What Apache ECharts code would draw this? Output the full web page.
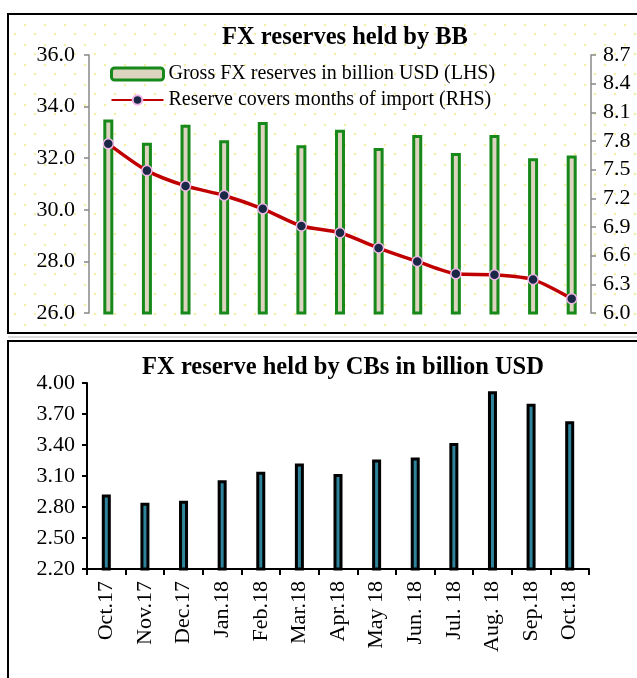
<!DOCTYPE html>
<html>
<head>
<meta charset="utf-8">
<script src="https://cdn.jsdelivr.net/npm/echarts@6/dist/echarts.min.js"></script>
<style>
  html, body { margin: 0; padding: 0; background: #fff; }
  #chart { width: 637px; height: 678px; }
</style>
</head>
<body>
<div id="chart"></div>
<script>
// top panel: BB reserves (LHS bars) and import cover (RHS line)
var months = ['Oct.17', 'Nov.17', 'Dec.17', 'Jan.18', 'Feb.18', 'Mar.18', 'Apr.18', 'May 18', 'Jun. 18', 'Jul. 18', 'Aug. 18', 'Sep.18', 'Oct.18']
var grossReserves = [33.5, 32.6, 33.3, 32.7, 33.4, 32.5, 33.1, 32.4, 32.9, 32.2, 32.9, 32.0, 32.1]
var importCover = [7.77, 7.49, 7.33, 7.23, 7.09, 6.91, 6.84, 6.68, 6.54, 6.41, 6.40, 6.35, 6.15]
// bottom panel: CBs reserves
var cbReserves = [2.92, 2.84, 2.86, 3.06, 3.14, 3.22, 3.12, 3.26, 3.28, 3.42, 3.92, 3.80, 3.63]

var serif = '"Liberation Serif", "Times New Roman", serif'

// pale yellow dotted background like the original
var dots = document.createElement('canvas')
dots.width = 20
dots.height = 20
var ctx = dots.getContext('2d')
ctx.fillStyle = '#fff'
ctx.fillRect(0, 0, 20, 20)
ctx.fillStyle = '#f3f0a8'
ctx.beginPath(); ctx.arc(5, 5, 1.3, 0, Math.PI * 2); ctx.fill()
ctx.beginPath(); ctx.arc(15, 14, 1.3, 0, Math.PI * 2); ctx.fill()

var chart = echarts.init(document.getElementById('chart'))

var option = {
  backgroundColor: '#fff',
  animation: false,
  graphic: [
    { type: 'rect', z: -1, shape: { x: 8, y: 14, width: 640, height: 319 },
      style: { fill: { image: dots, repeat: 'repeat' }, stroke: '#000', lineWidth: 2 } },
    { type: 'line', z: -1, shape: { x1: 8, y1: 337, x2: 637, y2: 337 },
      style: { stroke: '#bbb', lineWidth: 1 } },
    { type: 'rect', z: -1, shape: { x: 8, y: 341, width: 640, height: 360 },
      style: { fill: '#fff', stroke: '#000', lineWidth: 2 } }
  ],
  title: [{
    text: 'FX reserves held by BB',
    left: 340, top: 20, textAlign: 'center',
    textStyle: { fontFamily: serif, fontSize: 24.5, fontWeight: 'bold', color: '#000' }
  }, {
    text: 'FX reserve held by CBs in billion USD',
    left: 338, top: 350, textAlign: 'center',
    textStyle: { fontFamily: serif, fontSize: 24.5, fontWeight: 'bold', color: '#000' }
  }],
  legend: {
    orient: 'vertical',
    left: 105, top: 59,
    itemWidth: 52, itemHeight: 12, itemGap: 6,
    textStyle: { fontFamily: serif, fontSize: 20, color: '#000' },
    data: [
      { name: 'Gross FX reserves in billion USD (LHS)', itemStyle: { borderWidth: 3 } },
      { name: 'Reserve covers months of import (RHS)' }
    ]
  },
  grid: [
    { left: 89, right: 46, top: 55, height: 258 },
    { left: 87, right: 48, top: 383, height: 186 }
  ],
  xAxis: [{
    type: 'category', gridIndex: 0, data: months,
    axisLine: { show: false }, axisTick: { show: false }, axisLabel: { show: false }
  }, {
    type: 'category', gridIndex: 1, data: months,
    axisLine: { lineStyle: { color: '#000', width: 2 } },
    axisTick: { show: true, length: 6, lineStyle: { color: '#000', width: 2 } },
    axisLabel: { rotate: 90, fontFamily: serif, fontSize: 22, color: '#000', margin: 12 }
  }],
  yAxis: [{
    type: 'value', gridIndex: 0, min: 26, max: 36, interval: 2,
    axisLine: { show: true, lineStyle: { color: '#888', width: 1.5 } },
    axisTick: { show: true, length: 5, lineStyle: { color: '#888', width: 1.5 } },
    splitLine: { show: false },
    axisLabel: { fontFamily: serif, fontSize: 22, color: '#000', margin: 14,
      formatter: function (v) { return v.toFixed(1) } }
  }, {
    type: 'value', gridIndex: 0, position: 'right', min: 6.0, max: 8.7, interval: 0.3,
    axisLine: { show: true, lineStyle: { color: '#888', width: 1.5 } },
    axisTick: { show: true, length: 5, lineStyle: { color: '#888', width: 1.5 } },
    splitLine: { show: false },
    axisLabel: { fontFamily: serif, fontSize: 22, color: '#000', margin: 12,
      formatter: function (v) { return v.toFixed(1) } }
  }, {
    type: 'value', gridIndex: 1, min: 2.2, max: 4.0, interval: 0.3,
    axisLine: { show: true, lineStyle: { color: '#000', width: 2 } },
    axisTick: { show: true, length: 5, lineStyle: { color: '#000', width: 2 } },
    splitLine: { show: false },
    axisLabel: { fontFamily: serif, fontSize: 22, color: '#000', margin: 12,
      formatter: function (v) { return v.toFixed(2) } }
  }],
  series: [{
    name: 'Gross FX reserves in billion USD (LHS)',
    type: 'bar', xAxisIndex: 0, yAxisIndex: 0,
    data: grossReserves, barWidth: 10,
    itemStyle: { color: '#ddd4bf', borderColor: '#16891a', borderWidth: 3 }
  }, {
    name: 'Reserve covers months of import (RHS)',
    type: 'line', xAxisIndex: 0, yAxisIndex: 1,
    data: importCover, smooth: 0.25,
    symbol: 'circle', symbolSize: 10,
    lineStyle: { color: '#c00000', width: 3.5 },
    itemStyle: { color: '#1a2745', borderColor: '#f2b6ea', borderWidth: 1.5 }
  }, {
    name: 'CBs',
    type: 'bar', xAxisIndex: 1, yAxisIndex: 2,
    data: cbReserves, barWidth: 9,
    itemStyle: { color: '#2f849b', borderColor: '#000', borderWidth: 3 }
  }]
}

chart.setOption(option)
</script>
</body>
</html>
